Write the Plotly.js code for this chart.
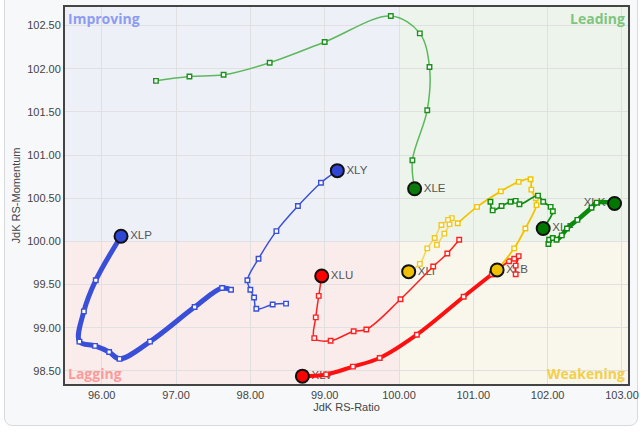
<!DOCTYPE html>
<html>
<head>
<meta charset="utf-8">
<script src="https://cdn.plot.ly/plotly-3.0.1.min.js"></script>
<style>
  html, body { margin: 0; padding: 0; background: #ffffff; width: 640px; height: 432px; overflow: hidden; }
  #frame { position: absolute; left: 4px; top: -10px; width: 632px; height: 434px; border: 1px solid #d6dadf; border-radius: 8px; background: #f7f8fa; }
  #chart { position: absolute; left: 0; top: 0; width: 640px; height: 432px; }
</style>
</head>
<body>
<div id="frame"></div>
<div id="chart"></div>
<script>
// Tickers (oldest point first, last point = head)
const tickers = ["XLE", "XLY", "XLP", "XLU", "XLV", "XLI", "XLB", "XLF", "XLK"];

const xleRatio    = [96.73, 97.18, 97.64, 98.26, 99.00, 99.89, 100.28, 100.41, 100.38, 100.18, 100.21];
const xleMomentum = [101.86, 101.91, 101.93, 102.07, 102.31, 102.61, 102.41, 102.02, 101.52, 100.94, 100.61];

const xlyRatio    = [98.48, 98.30, 98.08, 98.05, 98.00, 97.96, 98.11, 98.35, 98.64, 98.95, 99.17];
const xlyMomentum = [99.28, 99.27, 99.22, 99.35, 99.44, 99.55, 99.80, 100.12, 100.41, 100.68, 100.82];

const xlpRatio    = [97.74, 97.62, 97.25, 96.65, 96.24, 96.10, 95.91, 95.70, 95.76, 95.92, 96.26];
const xlpMomentum = [99.44, 99.46, 99.24, 98.84, 98.64, 98.72, 98.79, 98.84, 99.19, 99.55, 100.06];

const xluRatio    = [100.81, 100.65, 100.46, 100.02, 99.56, 99.39, 99.08, 98.86, 98.88, 98.92, 98.96];
const xluMomentum = [100.02, 99.86, 99.71, 99.33, 98.98, 98.96, 98.85, 98.88, 99.12, 99.37, 99.60];

const xlvRatio    = [101.57, 101.57, 101.61, 101.55, 101.48, 101.25, 100.87, 100.24, 99.74, 99.38, 99.02, 98.70];
const xlvMomentum = [99.62, 99.72, 99.83, 99.80, 99.77, 99.62, 99.36, 98.92, 98.65, 98.55, 98.46, 98.44];

const xliRatio    = [100.51, 100.61, 100.68, 100.71, 100.66, 100.57, 100.48, 100.38, 100.28, 100.13];
const xliMomentum = [99.96, 100.09, 100.20, 100.27, 100.25, 100.19, 100.04, 99.92, 99.74, 99.65];

const xlbRatio    = [100.79, 101.05, 101.37, 101.61, 101.77, 101.78, 101.84, 101.85, 101.70, 101.55, 101.32];
const xlbMomentum = [100.21, 100.40, 100.58, 100.69, 100.72, 100.60, 100.50, 100.42, 100.15, 99.92, 99.67];

const xlfRatio    = [101.23, 101.26, 101.38, 101.50, 101.57, 101.62, 101.87, 101.94, 102.04, 102.07, 101.94];
const xlfMomentum = [100.46, 100.36, 100.41, 100.46, 100.47, 100.43, 100.53, 100.46, 100.40, 100.35, 100.15];

const xlkRatio    = [102.01, 102.02, 102.07, 102.12, 102.19, 102.26, 102.40, 102.59, 102.66, 102.90];
const xlkMomentum = [99.97, 100.02, 100.04, 100.02, 100.07, 100.15, 100.25, 100.39, 100.45, 100.44];

// Axis ticks and quadrant names
const xTicks = [96, 97, 98, 99, 100, 101, 102, 103];
const yTicks = [98.5, 99, 99.5, 100, 100.5, 101, 101.5, 102, 102.5];
const quadrantNames = ["Improving", "Leading", "Lagging", "Weakening"];

const X_RANGE = [95.506, 103.081];
const Y_RANGE = [98.349, 102.715];

const series = [
  { name: "XLE", x: xleRatio, y: xleMomentum, line: "#5cb85c", mark: "#1f8f1f", head: "#0a7a0a", w: 1.5, pos: "middle right" },
  { name: "XLY", x: xlyRatio, y: xlyMomentum, line: "#3a4fd8", mark: "#3a4fd8", head: "#2f45d4", w: 1.5, pos: "middle right" },
  { name: "XLP", x: xlpRatio, y: xlpMomentum, line: "#3a4fd8", mark: "#3a4fd8", head: "#2f45d4", w: 5, pos: "middle right" },
  { name: "XLU", x: xluRatio, y: xluMomentum, line: "#ff2020", mark: "#ff2020", head: "#ff0000", w: 1.5, pos: "middle right" },
  { name: "XLV", x: xlvRatio, y: xlvMomentum, line: "#ff1010", mark: "#ff2020", head: "#ff0000", w: 4, pos: "middle right", thinUntil: 5 },
  { name: "XLI", x: xliRatio, y: xliMomentum, line: "#f6d456", mark: "#f3c81c", head: "#f0c000", w: 1.5, pos: "middle right" },
  { name: "XLB", x: xlbRatio, y: xlbMomentum, line: "#f3c300", mark: "#f3c300", head: "#f0c000", w: 1.8, pos: "middle right" },
  { name: "XLF", x: xlfRatio, y: xlfMomentum, line: "#118f11", mark: "#118f11", head: "#007800", w: 1.8, pos: "middle right" },
  { name: "XLK", x: xlkRatio, y: xlkMomentum, line: "#0c8a0c", mark: "#0c8a0c", head: "#007800", w: 4.5, pos: "middle left" }
];

const traces = [];
const FONT = "Liberation Sans, Arial, sans-serif";

// labels first (tails are drawn over them, as in the reference)
series.forEach(s => {
  const n = s.x.length - 1;
  traces.push({
    type: "scatter", mode: "markers+text", x: [s.x[n]], y: [s.y[n]], text: [s.name],
    marker: { size: 13, opacity: 0 },
    textposition: s.pos, textfont: { family: FONT, size: 11.5, color: "#555" },
    hoverinfo: "skip", showlegend: false, cliponaxis: false
  });
});

const tailMarker = (c) => ({ symbol: "square", size: 4.5, color: "#ffffff", line: { color: c, width: 1.4 } });

// tails
series.forEach(s => {
  if (s.thinUntil !== undefined) {
    traces.push({
      type: "scatter", mode: "lines+markers",
      x: s.x.slice(0, s.thinUntil + 1), y: s.y.slice(0, s.thinUntil + 1),
      line: { color: s.line, width: 1.8, shape: "spline", smoothing: 1 },
      marker: tailMarker(s.mark), hoverinfo: "skip", showlegend: false
    });
    traces.push({
      type: "scatter", mode: "lines+markers",
      x: s.x.slice(s.thinUntil), y: s.y.slice(s.thinUntil),
      line: { color: s.line, width: s.w, shape: "spline", smoothing: 1 },
      marker: tailMarker(s.mark), hoverinfo: "skip", showlegend: false
    });
  } else {
    traces.push({
      type: "scatter", mode: "lines+markers", x: s.x, y: s.y,
      line: { color: s.line, width: s.w, shape: "spline", smoothing: 1 },
      marker: tailMarker(s.mark), hoverinfo: "skip", showlegend: false
    });
  }
});

// heads
series.forEach(s => {
  const n = s.x.length - 1;
  traces.push({
    type: "scatter", mode: "markers", x: [s.x[n]], y: [s.y[n]], name: s.name,
    marker: { symbol: "circle", size: 13, color: s.head, line: { color: "#111", width: 2 } },
    showlegend: false, cliponaxis: false
  });
});

const quadColors = ["#eef0f8", "#edf4ec", "#f9eceb", "#f9f6ec"];
const shapes = [
  { type: "rect", xref: "x", yref: "y", x0: X_RANGE[0], x1: 100, y0: 100, y1: Y_RANGE[1], fillcolor: quadColors[0], line: { width: 0 }, layer: "below" },
  { type: "rect", xref: "x", yref: "y", x0: 100, x1: X_RANGE[1], y0: 100, y1: Y_RANGE[1], fillcolor: quadColors[1], line: { width: 0 }, layer: "below" },
  { type: "rect", xref: "x", yref: "y", x0: X_RANGE[0], x1: 100, y0: Y_RANGE[0], y1: 100, fillcolor: quadColors[2], line: { width: 0 }, layer: "below" },
  { type: "rect", xref: "x", yref: "y", x0: 100, x1: X_RANGE[1], y0: Y_RANGE[0], y1: 100, fillcolor: quadColors[3], line: { width: 0 }, layer: "below" },
  { type: "line", xref: "x", yref: "paper", x0: 100, x1: 100, y0: 0, y1: 1, line: { color: "#222", width: 1.2 }, layer: "below" },
  { type: "line", xref: "paper", yref: "y", x0: 0, x1: 1, y0: 100, y1: 100, line: { color: "#222", width: 1.2 }, layer: "below" }
];

const qFont = (c) => ({ family: "Open Sans, Liberation Sans, Arial, sans-serif", size: 14, color: c, weight: 700 });
const annotations = [
  { text: quadrantNames[0], xref: "paper", yref: "paper", x: 0, y: 1, xanchor: "left", yanchor: "top", showarrow: false, font: qFont("#8d9cf2"), xshift: 1, yshift: 0 },
  { text: quadrantNames[1], xref: "paper", yref: "paper", x: 1, y: 1, xanchor: "right", yanchor: "top", showarrow: false, font: qFont("#7fc47f"), xshift: -1, yshift: 0 },
  { text: quadrantNames[2], xref: "paper", yref: "paper", x: 0, y: 0, xanchor: "left", yanchor: "bottom", showarrow: false, font: qFont("#ff9a9a"), xshift: 1, yshift: -1 },
  { text: quadrantNames[3], xref: "paper", yref: "paper", x: 1, y: 0, xanchor: "right", yanchor: "bottom", showarrow: false, font: qFont("#f4cf48"), xshift: -1, yshift: -1 }
];

const layout = {
  width: 640, height: 432,
  margin: { l: 65, r: 12, t: 7, b: 48 },
  paper_bgcolor: "rgba(0,0,0,0)",
  plot_bgcolor: "#f4f4f6",
  font: { family: FONT, size: 11, color: "#444" },
  showlegend: false,
  xaxis: {
    range: X_RANGE, tickvals: xTicks, tickformat: ".2f",
    showgrid: true, gridcolor: "#e0e0e0", gridwidth: 1, zeroline: false,
    showline: true, mirror: true, linecolor: "#444", linewidth: 2,
    tickfont: { family: FONT, size: 11, color: "#444" },
    title: { text: "JdK RS-Ratio", font: { family: FONT, size: 11, color: "#444" }, standoff: 2 },
    automargin: false
  },
  yaxis: {
    range: Y_RANGE, tickvals: yTicks, tickformat: ".2f",
    showgrid: true, gridcolor: "#e0e0e0", gridwidth: 1, zeroline: false,
    showline: true, mirror: true, linecolor: "#444", linewidth: 2,
    tickfont: { family: FONT, size: 11, color: "#444" },
    title: { text: "JdK RS-Momentum", font: { family: FONT, size: 11, color: "#444" }, standoff: 4 },
    automargin: false
  },
  shapes: shapes,
  annotations: annotations
};

Plotly.newPlot("chart", traces, layout, { displayModeBar: false, staticPlot: true });
</script>
</body>
</html>
